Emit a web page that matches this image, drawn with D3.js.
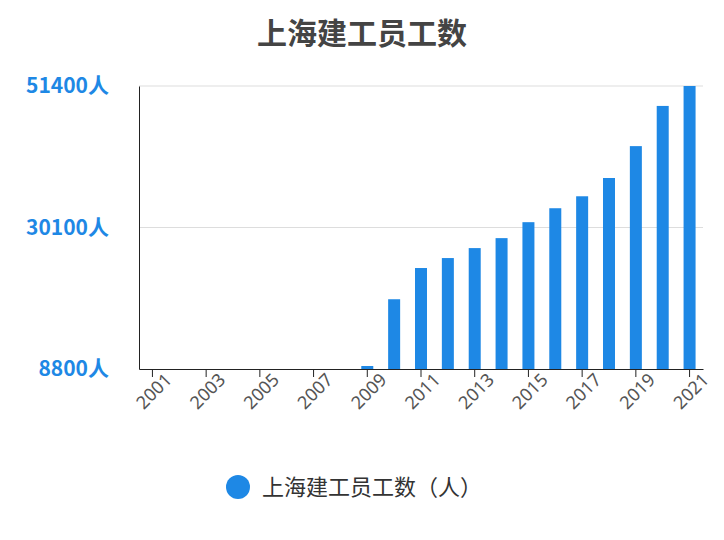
<!DOCTYPE html>
<html><head><meta charset="utf-8">
<script src="https://cdn.jsdelivr.net/npm/d3@7"></script>
<style>body{margin:0;background:#fff;font-family:"Noto Sans CJK SC","Noto Sans",sans-serif;}</style>
</head><body><div id="chart"></div>
<script>
var years = ["2001","2002","2003","2004","2005","2006","2007","2008","2009","2010","2011",
  "2012","2013","2014","2015","2016","2017","2018","2019","2020","2021"];
var workers = [null,null,null,null,null,null,null,null,9250,19300,24000,25500,27000,28500,
  30900,33000,34800,37550,42350,48400,51400];
var yTicks = [8800, 30100, 51400];

var margin = {left:139, right:21, top:86, bottom:171};
var width = 724 - margin.left - margin.right,
    height = 540 - margin.top - margin.bottom;

var svg = d3.select("#chart").append("svg").attr("width",724).attr("height",540);
var g = svg.append("g").attr("transform","translate("+margin.left+","+margin.top+")");

var x = d3.scaleBand().domain(years).range([0,width]);
var y = d3.scaleLinear().domain([8800,51400]).range([height,0]);

// grid
g.selectAll(".grid").data(yTicks.slice(1)).enter().append("line")
  .attr("x1",0).attr("x2",width)
  .attr("y1",function(d){return y(d);}).attr("y2",function(d){return y(d);})
  .attr("stroke","#ddd");

// bars
g.selectAll("rect").data(years.map(function(d,i){return {year:d,v:workers[i]};})
    .filter(function(d){return d.v!=null;}))
  .enter().append("rect")
  .attr("x",function(d){return x(d.year)+x.bandwidth()/2-6;})
  .attr("width",12)
  .attr("y",function(d){return y(d.v);})
  .attr("height",function(d){return height-y(d.v);})
  .attr("fill","#1e88e5");

// y axis
var yAxis = g.append("g").call(d3.axisLeft(y).tickValues(yTicks).tickSize(0).tickPadding(30)
  .tickFormat(function(d){return d+"人";}));
yAxis.select(".domain").attr("stroke","#222");
yAxis.selectAll("text").attr("fill","#1e88e5").style("font-size","21px").style("font-weight","bold")
  .style("font-family","'Noto Sans CJK SC',sans-serif");

// x axis
var xAxis = g.append("g").attr("transform","translate(0,"+height+")")
  .call(d3.axisBottom(x).tickValues(years.filter(function(d,i){return i%2==0;})).tickSize(8).tickSizeOuter(0));
xAxis.select(".domain").attr("stroke","#222");
xAxis.selectAll(".tick line").attr("stroke","#222");
xAxis.selectAll("text").attr("fill","#555").style("font-size","18px")
  .style("font-family","'Noto Sans',sans-serif")
  .attr("text-anchor","end").attr("x",6).attr("y",14).attr("dy","0.5em")
  .attr("transform","rotate(-45)");

// title
svg.append("text").attr("x",362).attr("y",44).attr("text-anchor","middle")
  .attr("fill","#444").style("font-size","30px").style("font-weight","bold")
  .text("上海建工员工数");

// legend
svg.append("circle").attr("cx",238).attr("cy",487).attr("r",12).attr("fill","#1e88e5");
svg.append("text").attr("x",262).attr("y",495).attr("fill","#333").style("font-size","22px")
  .text("上海建工员工数（人）");
</script></body></html>
